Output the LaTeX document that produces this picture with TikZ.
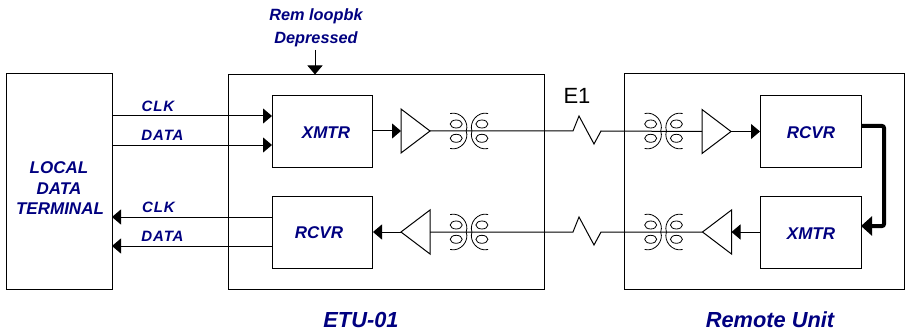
\documentclass[tikz,border=0pt]{standalone}
\usepackage{fontspec}
\setmainfont{Liberation Sans}
\usetikzlibrary{arrows.meta}
\definecolor{labelblue}{RGB}{0,0,128}
\tikzset{
  sq/.style={draw,inner sep=0pt,anchor=north west},
  lab/.style={text=labelblue,font=\bfseries\itshape\fontsize{17}{20}\selectfont,align=center,inner sep=0pt},
  mid/.style={text=labelblue,font=\bfseries\itshape\fontsize{16.3}{20}\selectfont,align=center,inner sep=0pt},
  small/.style={text=labelblue,font=\bfseries\itshape\fontsize{15}{18}\selectfont\addfontfeature{LetterSpace=6},inner sep=0pt},
  big/.style={text=labelblue,font=\bfseries\itshape\fontsize{21.8}{24}\selectfont,inner sep=0pt},
  sig/.style={-{Triangle[length=9pt,width=15pt]}},
  fat/.style={line width=4pt,rounded corners=2pt,-{Triangle[length=11pt,width=19pt]}},
  ampbox/.style={minimum width=29pt,minimum height=44pt,inner sep=0pt,outer sep=0pt},
  pics/xfmr/.style={code={
    \draw[line width=0.8pt] (-19.3,-17.5) .. controls (-9,-20) and (0,-9) .. (-3.3,0)
       .. controls (0,9) and (-9,20) .. (-19.3,17.5);
    \draw[line width=0.8pt] (18.7,-17.5) .. controls (8,-20) and (-0.5,-9) .. (2.4,0)
       .. controls (-0.5,9) and (8,20) .. (18.7,17.5);
    \foreach \cx in {-13.3,12.4} \foreach \cy in {-7,7.3}
      \draw[line width=0.8pt] (\cx,\cy) ellipse [x radius=6,y radius=4];
  }}
}
\newcommand{\ampright}[3]{\node[ampbox] (#1) at (#2,#3) {};
  \draw (#1.north west) -- (#1.east) -- (#1.south west) -- cycle;}
\newcommand{\ampleft}[3]{\node[ampbox] (#1) at (#2,#3) {};
  \draw (#1.north east) -- (#1.west) -- (#1.south east) -- cycle;}
\begin{document}
\begin{tikzpicture}[x=1pt,y=-1pt,line width=1pt]
\useasboundingbox (0,0) rectangle (907,334);
% outer boxes
\node[sq,minimum width=106pt,minimum height=216pt] (ldt) at (6,73) {};
\node[sq,minimum width=316pt,minimum height=215pt] (etu) at (228,74) {};
\node[sq,minimum width=280pt,minimum height=216pt] (rem) at (624,73) {};
% inner boxes
\node[sq,minimum width=100pt,minimum height=72pt] (xl) at (272,95) {};
\node[sq,minimum width=100pt,minimum height=72pt] (rl) at (272,196) {};
\node[sq,minimum width=101pt,minimum height=72pt] (rr) at (760,95) {};
\node[sq,minimum width=101pt,minimum height=72pt] (xr) at (760,196) {};
% text
\node[lab] (tl1) at (59,167.5) {LOCAL};
\node[lab] (tl2) at (59,188.5) {DATA};
\node[lab] (tl3) at (60,209) {TERMINAL};
\node[lab] (tx1) at (326,133) {XMTR};
\node[lab] (tr1) at (319,232.5) {RCVR};
\node[lab] (tr2) at (811,133) {RCVR};
\node[lab] (tx2) at (811,234) {XMTR};
\node[small] (c1) at (158,106.5) {CLK};
\node[small] (d1) at (162.5,135.5) {DATA};
\node[small] (c2) at (158.5,207.5) {CLK};
\node[small] (d2) at (162.5,236.5) {DATA};
\node[mid] (rem1) at (316,16.5) {Rem loopbk};
\node[mid] (rem2) at (316,39) {Depressed};
\node[font=\fontsize{22}{24}\selectfont,inner sep=0pt] (e1) at (577,96) {E1};
\node[big] (t1) at (361,320) {ETU-01};
\node[big] (t2) at (770,320) {Remote Unit};
% amplifiers
\ampright{a1}{415.5}{131}
\ampright{a2}{716.5}{131.5}
\ampleft{a3}{415.5}{232}
\ampleft{a4}{717}{232}
% free ends
\coordinate (top) at (315,50);
\coordinate (z1) at (573,131);
\coordinate (z2) at (573,232);
% connectors
\draw[sig] (top) -- (315,74.5);
\draw[sig] (112,116) -- (272,116);
\draw[sig] (112,145) -- (272,145);
\draw[sig] (272,217) -- (112,217);
\draw[sig] (272,246) -- (112,246);
\draw[sig] (xl.east |- a1) -- (a1.west);
\draw[sig] (a2.east) -- (rr.west |- a2);
\draw[sig] (xr.west |- a4) -- (a4.east);
\draw[sig] (a3.west) -- (rl.east |- a3);
\draw (a1.east) -- (z1) -- ++(6,-15) -- ++(15,28) -- ++(7,-13) -- (a2.west);
\draw (a3.east) -- (z2) -- ++(6,-15) -- ++(15,28) -- ++(7,-13) -- (a4.west);
\draw[fat] (861,126) -- (884,126) -- (884,226) -- (861,226);
% transformers
\pic at (469.5,131) {xfmr};
\pic at (664,131) {xfmr};
\pic at (469.5,232) {xfmr};
\pic at (664,232) {xfmr};
\end{tikzpicture}
\end{document}
